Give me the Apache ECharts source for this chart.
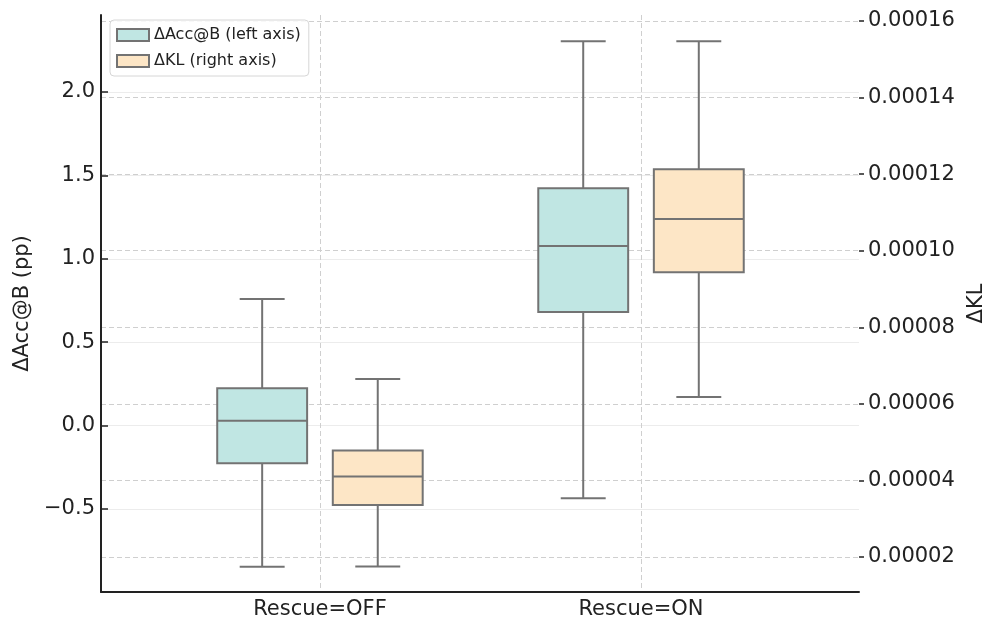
<!DOCTYPE html>
<html>
<head>
<meta charset="utf-8">
<script src="https://cdn.jsdelivr.net/npm/echarts@6/dist/echarts.min.js"></script>
<style>
html,body{margin:0;padding:0;background:#fff;}
#c{width:996px;height:633px;}
</style>
</head>
<body>
<div id="c"></div>
<script>
// ---- data ----
const categories = ['Rescue=OFF', 'Rescue=ON'];
// [min, Q1, median, Q3, max]
const accStats = [
  [-0.846, -0.226, 0.029, 0.224, 0.759],
  [-0.435, 0.681, 1.077, 1.423, 2.304]
];
const klStats = [
  [0.0000175, 0.0000336, 0.0000410, 0.0000478, 0.0000665],
  [0.0000618, 0.0000944, 0.0001083, 0.0001213, 0.0001547]
];
const accTicks = [-0.5, 0.0, 0.5, 1.0, 1.5, 2.0];
const klTicks = [0.00002, 0.00004, 0.00006, 0.00008, 0.00010, 0.00012, 0.00014, 0.00016];
const seriesNames = ['\u0394Acc@B (left axis)', '\u0394KL (right axis)'];

// ---- styling ----
const FONT = 'DejaVu Sans';
const accColor = '#c0e6e3';
const klColor = '#fde6c6';
const edge = '#737373';
const OFFSET = 0.18, BOXW = 0.28;

function boxRender(params, api) {
  const x = api.value(0);
  const vmin = api.value(1), q1 = api.value(2), med = api.value(3), q3 = api.value(4), vmax = api.value(5);
  const half = api.size([BOXW, 0])[0] / 2;
  const cap = half / 2;
  const pMin = api.coord([x, vmin]);
  const pQ1 = api.coord([x, q1]);
  const pMed = api.coord([x, med]);
  const pQ3 = api.coord([x, q3]);
  const pMax = api.coord([x, vmax]);
  const cx = pMed[0];
  const lineStyle = {stroke: edge, lineWidth: 2, fill: null};
  const fill = api.visual('color');
  return {
    type: 'group',
    children: [
      {type: 'line', shape: {x1: cx, y1: pQ3[1], x2: cx, y2: pMax[1]}, style: lineStyle},
      {type: 'line', shape: {x1: cx, y1: pQ1[1], x2: cx, y2: pMin[1]}, style: lineStyle},
      {type: 'line', shape: {x1: cx - cap, y1: pMax[1], x2: cx + cap, y2: pMax[1]}, style: lineStyle},
      {type: 'line', shape: {x1: cx - cap, y1: pMin[1], x2: cx + cap, y2: pMin[1]}, style: lineStyle},
      {type: 'rect', shape: {x: cx - half, y: pQ3[1], width: 2 * half, height: pQ1[1] - pQ3[1]},
        style: {fill: fill, stroke: edge, lineWidth: 2}},
      {type: 'line', shape: {x1: cx - half, y1: pMed[1], x2: cx + half, y2: pMed[1]}, style: lineStyle}
    ]
  };
}

const accData = accStats.map((s, i) => [i - OFFSET].concat(s));
const klData = klStats.map((s, i) => [i + OFFSET].concat(s));

const chart = echarts.init(document.getElementById('c'), null, {renderer: 'canvas'});
chart.setOption({
  animation: false,
  backgroundColor: '#ffffff',
  textStyle: {fontFamily: FONT},
  grid: {left: 101, right: 137, top: 15, bottom: 41, containLabel: false},
  legend: {
    orient: 'vertical',
    left: 110, top: 20,
    padding: [7, 8, 7, 6],
    itemGap: 10,
    itemWidth: 32, itemHeight: 12,
    icon: 'rect',
    borderColor: '#d6d6d6', borderWidth: 1, borderRadius: 4,
    backgroundColor: 'rgba(255,255,255,0.85)',
    textStyle: {fontFamily: FONT, fontSize: 16, color: '#222'},
    data: [
      {name: seriesNames[0], itemStyle: {color: accColor, borderColor: edge, borderWidth: 2}},
      {name: seriesNames[1], itemStyle: {color: klColor, borderColor: edge, borderWidth: 2}}
    ]
  },
  xAxis: {
    type: 'value',
    min: -0.682, max: 1.679,
    axisLine: {show: true, onZero: false, lineStyle: {color: '#222', width: 2}},
    axisTick: {show: false, customValues: [0, 1]},
    axisLabel: {
      customValues: [0, 1],
      fontFamily: FONT, fontSize: 21, color: '#222', margin: 7,
      formatter: v => categories[Math.round(v)]
    },
    splitLine: {show: true, lineStyle: {color: '#cfcfcf', type: [5, 3], width: 1}}
  },
  yAxis: [
    {
      type: 'value', position: 'left',
      min: -0.9976, max: 2.4616,
      name: '\u0394Acc@B (pp)', nameLocation: 'middle', nameRotate: 90, nameGap: 64,
      nameTextStyle: {fontFamily: FONT, fontSize: 21, color: '#222'},
      axisLine: {show: true, onZero: false, lineStyle: {color: '#222', width: 2}},
      axisTick: {show: true, inside: true, length: 7, customValues: accTicks, lineStyle: {color: '#222', width: 1.5}},
      axisLabel: {
        customValues: accTicks,
        fontFamily: FONT, fontSize: 21, color: '#222', margin: 6,
        formatter: v => (v < 0 ? '\u2212' : '') + Math.abs(v).toFixed(1)
      },
      splitLine: {show: true, lineStyle: {color: '#ececec', width: 1, type: 'solid'}}
    },
    {
      type: 'value', position: 'right',
      min: 0.00001086, max: 0.00016157,
      name: '\u0394KL', nameLocation: 'middle', nameRotate: 90, nameGap: 104,
      nameTextStyle: {fontFamily: FONT, fontSize: 21, color: '#222'},
      axisLine: {show: false, onZero: false},
      axisTick: {show: true, inside: false, length: 5, customValues: klTicks, lineStyle: {color: '#222', width: 1.5}},
      axisLabel: {
        customValues: klTicks,
        fontFamily: FONT, fontSize: 21, color: '#222', margin: 9,
        formatter: v => v.toFixed(5)
      },
      splitLine: {show: true, lineStyle: {color: '#cfcfcf', width: 1, type: [5, 3]}}
    }
  ],
  series: [
    {
      name: seriesNames[0], type: 'custom', xAxisIndex: 0, yAxisIndex: 0,
      itemStyle: {color: accColor, borderColor: edge, borderWidth: 2},
      renderItem: boxRender,
      encode: {x: 0, y: [1, 2, 3, 4, 5]},
      data: accData, z: 3
    },
    {
      name: seriesNames[1], type: 'custom', xAxisIndex: 0, yAxisIndex: 1,
      itemStyle: {color: klColor, borderColor: edge, borderWidth: 2},
      renderItem: boxRender,
      encode: {x: 0, y: [1, 2, 3, 4, 5]},
      data: klData, z: 3
    }
  ]
});
</script>
</body>
</html>
